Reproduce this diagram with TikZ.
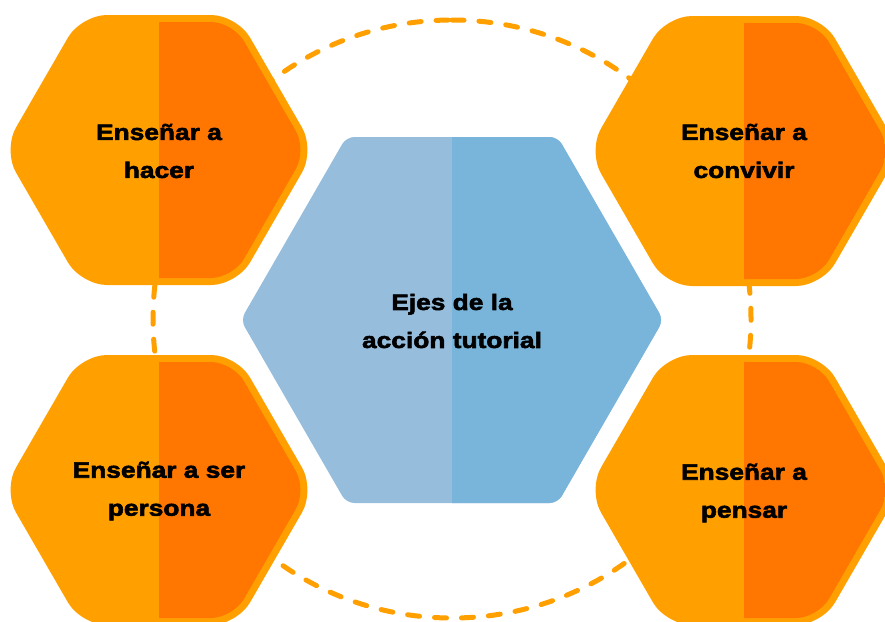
\documentclass[tikz,border=0pt]{standalone}
\usepackage{fontspec}
\newfontfamily\hexfont{Liberation Sans Bold}[FakeStretch=1.18,FakeBold=2.5]
\definecolor{lightor}{HTML}{FFA000}
\definecolor{darkor}{HTML}{FF7600}
\definecolor{bluel}{HTML}{97BDDD}
\definecolor{bluer}{HTML}{79B5DB}
\tikzset{
  hextext/.style={align=center, text=black, font=\hexfont\fontsize{22.3}{38}\selectfont, inner sep=0pt},
  ring/.style={draw=lightor, line width=5pt, dash pattern=on 12pt off 15pt, line cap=round},
  pics/orangehex/.style={code={
    \fill[lightor, rounded corners=26pt] (0,-135) -- (78,-135) -- (156,0) -- (78,135) -- (-78,135) -- (-156,0) -- (-78,-135) -- cycle;
    \begin{scope}
      \clip[rounded corners=22pt] (0,-128) -- (73.9,-128) -- (147.8,0) -- (73.9,128) -- (-73.9,128) -- (-147.8,0) -- (-73.9,-128) -- cycle;
      \fill[darkor] (0,-140) rectangle (160,140);
    \end{scope}
  }},
  pics/bluehex/.style={code={
    \fill[bluel, rounded corners=8pt] (0,-183) -- (105.7,-183) -- (211.3,0) -- (105.7,183) -- (-105.7,183) -- (-211.3,0) -- (-105.7,-183) -- cycle;
    \begin{scope}
      \clip[rounded corners=8pt] (0,-183) -- (105.7,-183) -- (211.3,0) -- (105.7,183) -- (-105.7,183) -- (-211.3,0) -- (-105.7,-183) -- cycle;
      \fill[bluer] (0,-190) rectangle (215,190);
    \end{scope}
  }}
}
\begin{document}
\begin{tikzpicture}[x=1pt,y=-1pt]
  \useasboundingbox (0,0) rectangle (885,621);
  \clip (0,0) rectangle (885,621);
  \coordinate (ringtop) at (452,20);
  \draw[ring] (ringtop) arc[start angle=-90, end angle=270, radius=299];
  \pic (hexTL) at (159,150) {orangehex};
  \pic (hexTR) at (744,151) {orangehex};
  \pic (hexBL) at (159,490) {orangehex};
  \pic (hexBR) at (744,490) {orangehex};
  \pic (hexC) at (452,320) {bluehex};
  \node[hextext] (tTL) at (159,151) {Enseñar a\\hacer};
  \node[hextext] (tTR) at (744,151) {Enseñar a\\convivir};
  \node[hextext] (tBL) at (159,491) {Enseñar a ser\\persona};
  \node[hextext] (tBR) at (744,493) {Enseñar a\\pensar};
  \node[hextext] (tC) at (452,321) {Ejes de la\\acción tutorial};
\end{tikzpicture}
\end{document}
